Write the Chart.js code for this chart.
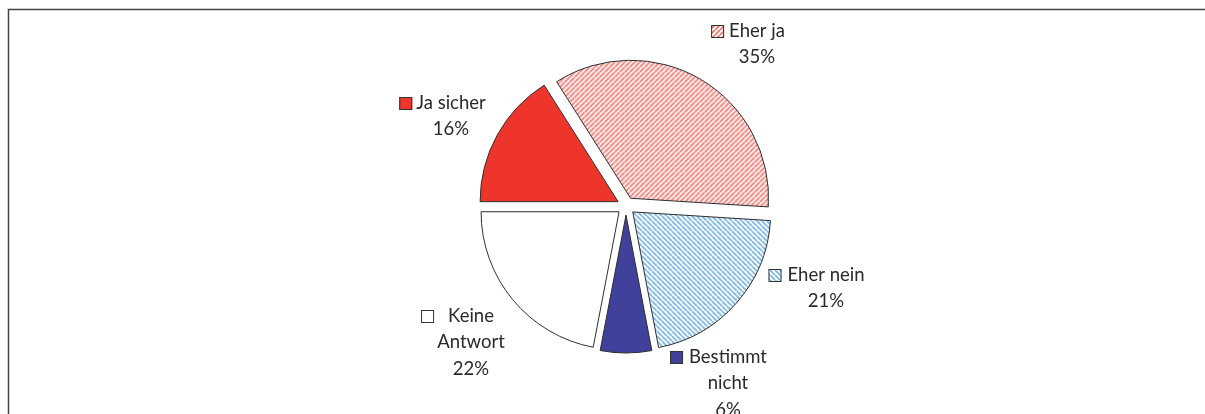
<!DOCTYPE html>
<html><head><meta charset="utf-8">
<script src="https://cdn.jsdelivr.net/npm/chart.js@4.4.1/dist/chart.umd.min.js"></script>
<style>html,body{margin:0;padding:0;background:#fff;}#wrap{width:1205px;height:414px;}</style>
</head><body><div id="wrap"><canvas id="c" width="1205" height="414"></canvas></div>
<script>
// ---- data ----
const categories = ["Ja sicher", "Eher ja", "Eher nein", "Bestimmt nicht", "Keine Antwort"];
const shares = [16, 35, 21, 6, 22];
const labelLines = [["Ja sicher"], ["Eher ja"], ["Eher nein"], ["Bestimmt", "nicht"], ["Keine", "Antwort"]];

// ---- styles ----
function hatch(color, dir) {
  const s = 5, c = document.createElement('canvas');
  c.width = s; c.height = s;
  const g = c.getContext('2d');
  g.fillStyle = '#fff'; g.fillRect(0, 0, s, s);
  g.strokeStyle = color; g.lineWidth = 1.9;
  g.beginPath();
  for (const k of [-s, 0, s]) {
    if (dir === '/') { g.moveTo(k, s); g.lineTo(k + s, 0); }
    else { g.moveTo(k, 0); g.lineTo(k + s, s); }
  }
  g.stroke();
  return document.getElementById('c').getContext('2d').createPattern(c, 'repeat');
}
const fills = ['#ee352b', hatch('#f07a74', '/'), hatch('#7fb8e3', '\\'), '#3f419b', '#ffffff'];
const labelRel = [[-175, -103], [131, -175], [200, 69], [102, 151], [-155, 110]];
const keyGap = [4, 5, 6, 6, 14];

const explode = {
  id: 'explode',
  beforeDatasetDraw(chart, args, opts) {
    const ctx = chart.ctx;
    args.meta.data.forEach(arc => {
      const mid = (arc.startAngle + arc.endAngle) / 2;
      ctx.save();
      ctx.translate(Math.cos(mid) * opts.distance, Math.sin(mid) * opts.distance);
      arc.draw(ctx);
      ctx.restore();
    });
    return false;
  }
};

const frame = {
  id: 'frame',
  afterDraw(chart) {
    const ctx = chart.ctx;
    ctx.save();
    ctx.strokeStyle = '#444'; ctx.lineWidth = 1.5;
    ctx.beginPath();
    ctx.moveTo(8.5, 414); ctx.lineTo(8.5, 9.5); ctx.lineTo(1205, 9.5);
    ctx.stroke();
    ctx.restore();
  }
};

const sliceLabels = {
  id: 'sliceLabels',
  afterDatasetsDraw(chart) {
    const ctx = chart.ctx;
    const meta = chart.getDatasetMeta(0);
    const cx = meta.data[0].x, cy = meta.data[0].y;
    ctx.save();
    ctx.font = '18.5px Lato';
    ctx.fillStyle = '#2a2a2a';
    ctx.textAlign = 'center';
    ctx.textBaseline = 'middle';
    const lh = 26.5;
    categories.forEach((cat, i) => {
      const ax = cx + labelRel[i][0], ay = cy + labelRel[i][1];
      const lines = labelLines[i].concat([shares[i] + '%']);
      lines.forEach((t, k) => ctx.fillText(t, ax, ay + k * lh));
      const w = ctx.measureText(lines[0]).width;
      const bx = ax - w / 2 - keyGap[i] - 13;
      ctx.fillStyle = fills[i];
      ctx.fillRect(bx, ay - 6, 13, 13);
      ctx.strokeStyle = '#333'; ctx.lineWidth = 1;
      ctx.strokeRect(bx + 0.5, ay - 5.5, 12, 12);
      ctx.fillStyle = '#2a2a2a';
    });
    ctx.restore();
  }
};

new Chart(document.getElementById('c'), {
  type: 'pie',
  data: {
    labels: categories,
    datasets: [{
      data: shares,
      backgroundColor: fills,
      borderColor: '#2e2e2e',
      borderWidth: 1,
      borderJoinStyle: 'miter'
    }]
  },
  options: {
    responsive: false,
    animation: false,
    events: [],
    rotation: 270,
    radius: 138,
    layout: { padding: { left: 47, right: 0, top: 0, bottom: 2 } },
    plugins: {
      legend: { display: false },
      tooltip: { enabled: false },
      explode: { distance: 9 }
    }
  },
  plugins: [explode, sliceLabels, frame]
});
</script></body></html>
